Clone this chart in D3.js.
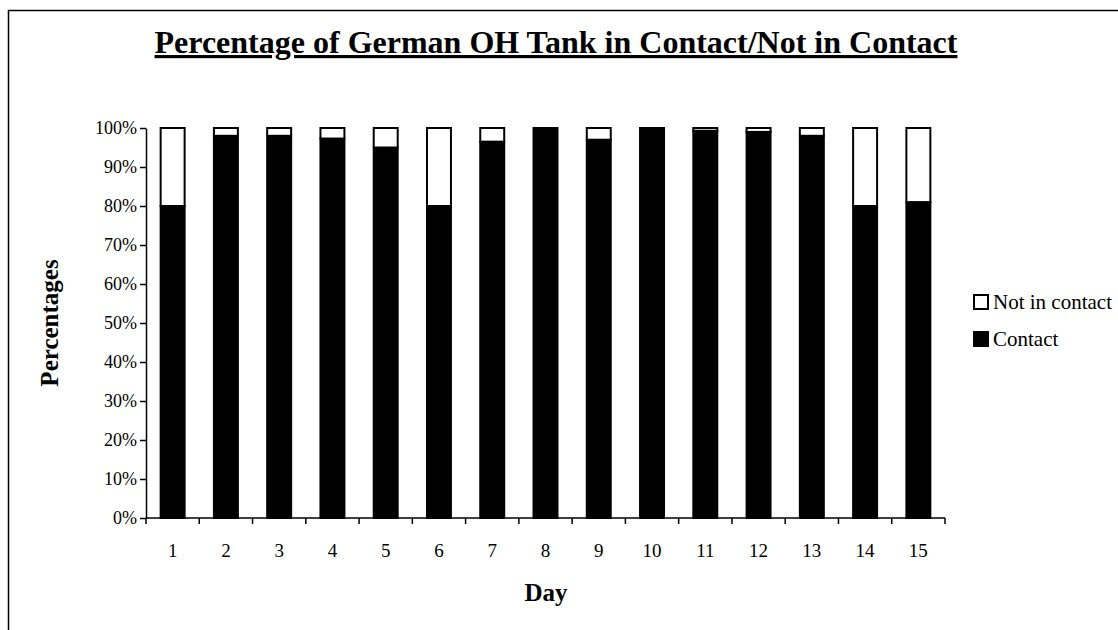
<!DOCTYPE html>
<html>
<head>
<meta charset="utf-8">
<script src="https://cdn.jsdelivr.net/npm/d3@7"></script>
<style>
  html, body { margin: 0; padding: 0; background: #fff; }
  svg { display: block; font-family: "Liberation Serif", "Times New Roman", serif; }
</style>
</head>
<body>
<div id="chart"></div>
<script>
// Day categories and percentage values
const days = ["1", "2", "3", "4", "5", "6", "7", "8", "9", "10", "11", "12", "13", "14", "15"];
const contact = [80, 98, 98, 97.3, 95, 80, 96.5, 100, 97, 100, 99.3, 99, 98, 80, 81];
const notInContact = contact.map((c) => 100 - c);
const yTicks = [0, 10, 20, 30, 40, 50, 60, 70, 80, 90, 100];
const seriesNames = ["Not in contact", "Contact"];

const W = 1118, H = 630;
const margin = { left: 146, right: 173, top: 128, bottom: 112 };

const svg = d3.select("#chart").append("svg")
  .attr("width", W).attr("height", H);

// outer frame
svg.append("rect")
  .attr("x", 8.5).attr("y", 10.5)
  .attr("width", W + 20).attr("height", H + 20)
  .attr("fill", "none").attr("stroke", "#000").attr("stroke-width", 1.5);

const x = d3.scaleBand()
  .domain(days)
  .range([margin.left, W - margin.right])
  .paddingInner(0.55).paddingOuter(0.275);

const y = d3.scaleLinear()
  .domain([0, 100])
  .range([H - margin.bottom, margin.top]);

// bars: contact (black) at bottom, not-in-contact (white) stacked on top
const rows = days.map((d, i) => ({ day: d, contact: contact[i], notIn: notInContact[i] }));
const stack = d3.stack().keys(["contact", "notIn"])(rows);

const fills = { contact: "#000", notIn: "#fff" };

svg.append("g").selectAll("g")
  .data(stack)
  .join("g")
  .attr("fill", (s) => fills[s.key])
  .attr("stroke", "#000")
  .attr("stroke-width", 2)
  .selectAll("rect")
  .data((s) => s.filter((d) => d[1] - d[0] > 0.01))
  .join("rect")
  .attr("x", (d) => x(d.data.day))
  .attr("width", x.bandwidth())
  .attr("y", (d) => y(d[1]))
  .attr("height", (d) => y(d[0]) - y(d[1]));

// y axis
const yAxis = svg.append("g")
  .attr("transform", `translate(${margin.left},0)`)
  .call(d3.axisLeft(y).tickValues(yTicks).tickFormat((d) => d + "%").tickSize(6).tickSizeOuter(0));
yAxis.select(".domain").attr("stroke-width", 1.5);
yAxis.selectAll(".tick line").attr("stroke-width", 1.5);
yAxis.selectAll("text")
  .attr("font-size", 18).attr("font-family", "Liberation Serif").attr("fill", "#000")
  .attr("x", -9);

// x axis with ticks at category boundaries
const xAxisG = svg.append("g")
  .attr("transform", `translate(0,${H - margin.bottom})`);
xAxisG.append("line")
  .attr("x1", margin.left).attr("x2", W - margin.right)
  .attr("stroke", "#000").attr("stroke-width", 1.5);
const step = x.step();
const bounds = d3.range(days.length + 1).map((i) => margin.left + i * step);
xAxisG.selectAll(".bt")
  .data(bounds)
  .join("line")
  .attr("x1", (d) => d).attr("x2", (d) => d)
  .attr("y1", 0).attr("y2", 6)
  .attr("stroke", "#000").attr("stroke-width", 1.5);
xAxisG.selectAll(".lbl")
  .data(days)
  .join("text")
  .attr("x", (d) => x(d) + x.bandwidth() / 2)
  .attr("y", 39)
  .attr("text-anchor", "middle")
  .attr("font-size", 19)
  .text((d) => d);

// title
svg.append("text")
  .attr("x", 556).attr("y", 53)
  .attr("text-anchor", "middle")
  .attr("font-size", 32).attr("font-weight", "bold")
  .attr("text-decoration", "underline")
  .text("Percentage of German OH Tank in Contact/Not in Contact");

// axis titles
svg.append("text")
  .attr("x", 546).attr("y", 601)
  .attr("text-anchor", "middle")
  .attr("font-size", 25).attr("font-weight", "bold")
  .text("Day");

svg.append("text")
  .attr("transform", "translate(58,323) rotate(-90)")
  .attr("text-anchor", "middle")
  .attr("font-size", 25).attr("font-weight", "bold")
  .text("Percentages");

// legend
const legend = svg.append("g").attr("transform", "translate(973,0)");
const legendY = [302, 339];
seriesNames.forEach((name, i) => {
  legend.append("rect")
    .attr("x", 1).attr("y", legendY[i] - 7)
    .attr("width", 14).attr("height", 14)
    .attr("fill", i === 0 ? "#fff" : "#000")
    .attr("stroke", "#000").attr("stroke-width", 2);
  legend.append("text")
    .attr("x", 20).attr("y", legendY[i] + 7)
    .attr("font-size", 21)
    .text(name);
});
</script>
</body>
</html>
